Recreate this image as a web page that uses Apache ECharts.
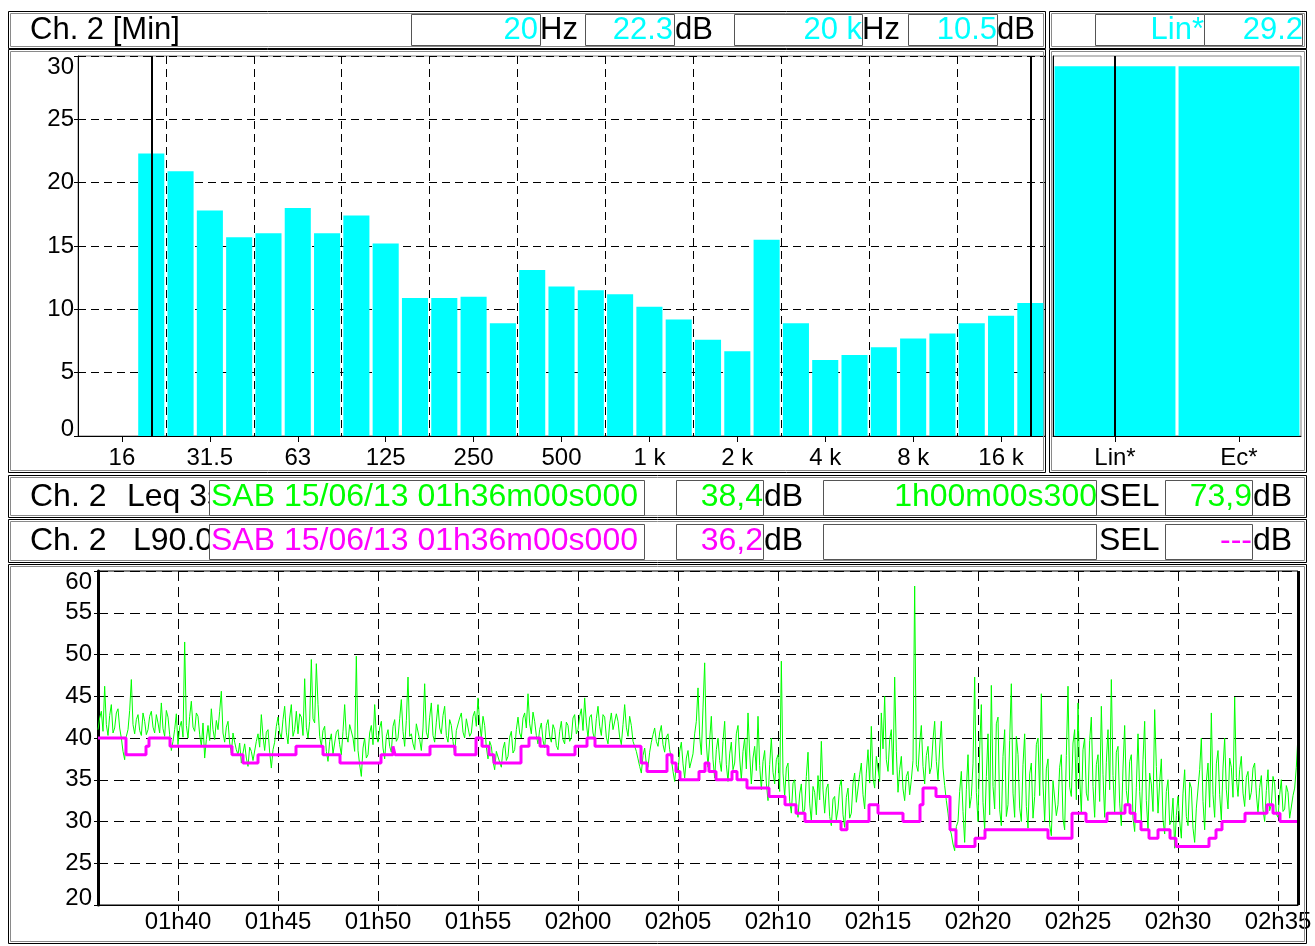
<!DOCTYPE html>
<html><head><meta charset="utf-8">
<script src="https://cdn.jsdelivr.net/npm/echarts@6/dist/echarts.min.js"></script>
<style>html,body{margin:0;padding:0;background:#fff}#c{width:1315px;height:946px}</style>
</head><body><div id="c"></div>
<script>
// ---------- DATA ----------
const bandLabels = ['12.5','16','20','25','31.5','40','50','63','80','100','125','160','200','250','315','400','500','630','800','1 k','1.25 k','1.6 k','2 k','2.5 k','3.15 k','4 k','5 k','6.3 k','8 k','10 k','12.5 k','16 k','20 k'];
const bandValues = [null,null,22.3,20.9,17.8,15.7,16.0,18.0,16.0,17.4,15.2,10.9,10.9,11.0,8.9,13.1,11.8,11.5,11.2,10.2,9.2,7.6,6.7,15.5,8.9,6.0,6.4,7.0,7.7,8.1,8.9,9.5,10.5];
const totalLabels = ['Lin*','Ec*'];
const totalValues = [29.2, 29.2];
const cursorBands = ['20','20 k'];

const startMinute = 96;   // 01h36
const endMinute = 156;    // 02h36
const leqStepMinutes = 1/12; // 5 s samples
const leqValues = [
41,42.4,43.2,40.8,46.2,41.6,40.3,42.7,44,40.6,41.2,43,
43.5,41.2,40,38.4,37.4,40.2,41,43.3,47,41.6,40.5,42.2,
42.8,40.9,40.3,43,42,40.4,41,42.6,43.2,41.3,40.6,42.8,
41.8,40.6,44.2,41.1,40.2,43.3,42.5,40.4,38.5,39.6,41,42.9,
39.2,41.3,42,40.1,51.5,41.5,40,42.6,44.4,41.3,40.8,43,
42.6,40.4,39,41.8,37.6,39.8,41.5,39.7,43.5,41,39.8,42.1,
41,43.2,45.6,40.6,39.5,41.3,42,39.4,38.2,40.6,39.5,38.6,
38,39.4,37,38.2,39.3,37.6,36.6,38.9,38.4,37.3,37.5,39.6,
40.5,38.9,42.8,40.2,38.5,40.7,41,38.3,36.4,38.6,39.5,41.4,
42.5,40.6,40,42.2,43.8,40.7,39.3,42.4,44,40.2,41,43.2,
40.5,42.9,42.5,40.3,47.1,41.3,40,42,49.4,42.3,41.8,48.9,
44,40.2,39,40.9,41.4,38.4,37.2,39.6,40.5,38.1,38.3,40.7,
41,39.2,38,40.8,44,40.3,39.5,41.6,41.5,40,38.4,49.8,
38.5,36.8,35.4,38.8,40,37.6,38,40.6,41.5,39.2,44,40.3,
39.5,41.2,42,38.8,37.5,40.2,41,39,38.3,41.4,42.2,39.6,
40,42.3,44.6,40.8,39,42.1,47.3,40.2,40.5,39.3,38.6,41.7,
41.5,39.8,38.5,41.2,46.5,40.7,40,42.5,44.2,40.3,39.5,41.9,
44,41.2,40.5,42.7,43.8,40.3,39.5,42.2,41.5,39.6,38,40.9,
41,42.4,43,40.7,40,42.3,42.5,40.2,40.6,42.6,43.2,41.4,
44.8,41.8,40,42.6,41.5,38.9,37.5,39.6,39,37.2,36.2,38.4,
38.5,37.1,36.5,38.7,39.5,37.3,37.8,40.1,40.8,38.2,38.6,41,
42.5,40.6,40,42.4,43,41.2,45.3,41.7,40.5,43.1,42,40.3,
39.3,41,41.8,39.7,38.8,41.5,42.2,40.2,39.5,41.6,41,39.1,
38.6,40.8,42,39.8,39.3,41.9,41.5,39.6,40,42.4,42.8,40.5,
41,42.6,43.5,40.9,44.8,41.8,40,42.5,42.8,40.6,39.8,42.3,
43.8,41.4,40.3,42.8,42.5,40.1,39.3,41.7,43,41,40.8,42.9,
42,40.1,39.2,41.6,44,41.3,40.2,42.6,41.5,39.6,39.5,38.4,
37.5,36.6,35.8,37.9,38.8,36.9,36.5,38.3,39.5,40.4,41.2,39.6,
39,40.6,41.5,39.2,38.3,40.1,40.5,38.6,37.5,36,34.8,36.8,
36,38.4,39.5,36.9,35.2,37.6,38.5,36.4,36.2,38.1,40.5,42,
46,40.2,38,43.6,49,39.4,36.5,39.8,42.6,37.4,35.2,38.6,
40,37.3,36,39.6,42,36.8,34.8,38.1,39.5,36.2,37,40.5,
41.5,37.6,35,38.4,40,36.3,43,38.2,34.5,37.6,39,36.1,
42.6,36.7,33.8,37.2,38.5,34.6,32.5,36.8,40,35.9,34.5,37.4,
38,33.6,49.2,35.8,33,36.4,37,32.4,31,34.6,35,31.8,
30.5,33.3,34.5,30.9,31.5,35.4,38.3,32.2,30,34.2,33.5,30.8,
35.5,32.6,39.6,33.8,31,33.9,34.5,30.6,29.5,32.7,33,30.2,
31.5,34.2,35,30.8,29.3,32.9,34,30.4,31,34.6,35.8,32.3,
32.5,35.6,37,33.2,31.5,35.8,38.6,34.6,41.4,35.2,34,37.8,
38,34.8,43,38.7,45,37.4,36,39.8,41,35.6,47.3,38.4,
33.5,36.2,37.8,33.9,32.5,35.4,36,33.2,35,37.3,58.2,36.8,
36,39.4,41.5,36.6,34.5,37.9,39,35.7,36.5,39.8,42,37.2,
35,38.8,42,36.4,34.3,32.5,31,29.2,28.5,27.3,26.5,29.4,
30,33.6,36,31.2,27.5,33.8,38,31.6,33,36.9,47.3,33.5,
30,38.6,44,32.3,29,35.4,40.5,30.8,46.3,34.2,31.5,41.7,
42.5,31.4,29.5,37.8,41,30.6,32,39.7,46.5,33.4,30.5,40.2,
38,31.6,30,36.8,40.5,31.8,29.2,35.7,37,30.4,33,39.2,
40,33.1,45.3,34.6,30,36.3,37.5,29.6,28.3,34.9,35,30.7,
32,36.5,38,30.3,29,37.9,46.2,34.1,33,39.4,41,32.6,
44.2,35.3,31,38.6,40,33.4,32.5,39.7,42.5,34.2,30.5,36.8,
38,32.4,43.8,35.6,30.5,37.1,41,33.8,47,35.5,31,38.3,
39,32.2,29.5,36.4,41.5,33.7,32,37.2,38,30.4,28.8,34.1,
40.5,33.6,30,37.4,42,32.5,29,35.8,34.5,31.2,43.4,36.6,
31,34.7,37.5,30.2,28.5,33.6,35,29.6,30,32.8,26.8,30.7,
33,30.1,28,33.4,36.2,30.6,29.5,34.7,34,29.2,27.5,31.6,
31.5,36.2,40,32.4,29,34.8,37,31.7,43,33.2,30.5,36.9,
38.5,33.2,30.2,36.4,40,33.8,31.5,37.6,36.5,32.9,44.9,35.3,
33,36.2,37.8,33.4,31.8,35.3,36,32.6,33.5,36.4,37,33.3,
31,34.1,35.5,31.4,30,33.7,36.2,31.3,32,35.4,34.5,30.9,
30.5,33.2,35,31.2,31.5,34.3,33.5,30.4,30.2,33.1,34,36.5,
40.4];
// L90 step changes: minutes after 01h36 and level (dB)
const l90Start = [0,1.4,2.4,2.55,3.6,6.7,7.25,8.0,9.9,11.25,12.1,14.15,14.75,14.85,16.6,17.85,18.9,19.2,19.55,19.8,21.15,21.55,22.1,22.5,23.85,24.45,24.85,27.15,27.45,28.45,28.7,28.9,29.1,30.05,30.35,30.55,30.9,31.7,31.95,32.45,33.55,34.35,34.9,35.35,37.15,37.45,38.55,39.0,40.25,41.1,41.25,41.9,42.6,42.9,43.85,44.35,47.5,48.7,49.4,50.45,51.35,51.6,51.85,52.15,52.55,53.0,53.6,53.9,55.55,55.9,56.2,57.35,58.45,58.75,59.1,60];
const l90Values = [40,38,39,40,39,38,37,38,39,38,37,38,39,38,39,38,40,39,38,37,39,40,39,38,39,40,39,37,36,38,37,36,35,36,37,36,35,36,35,34,33,32,31,30,29,30,32,31,30,32,34,33,29,27,28,29,28,31,30,31,32,31,30,29,28,29,28,27,28,29,30,31,32,31,30,30];

// ---------- RENDER ----------
const FONT = "'Liberation Sans', Arial, Helvetica, sans-serif";
const GREEN = '#00ff00', MAG = '#ff00ff', CYAN = '#00ffff';
const leqData = leqValues.map((v,i)=>[startMinute + i*leqStepMinutes, v]);
const l90Data = l90Start.map((t,i)=>[startMinute + t, l90Values[i]]);
const pad = n => (n<10?'0':'')+n;

function txt(x,y,s,color,size,align,z){
  return {type:'text', x:x, y:y, z:z||6, silent:true,
    style:{text:s, fill:color, font:size+'px '+FONT, textAlign:align||'left', textVerticalAlign:'middle', align:align||'left', verticalAlign:'middle'}};
}
function box(x,y,w,h,z){
  return {type:'rect', z:z||5, silent:true, shape:{x:x+0.5,y:y+0.5,width:w,height:h}, style:{fill:'#fff', stroke:'#555', lineWidth:1}};
}
function frame(x,y,w,h){
  return [
    {type:'rect', z:1, silent:true, shape:{x:x+0.5,y:y+0.5,width:w,height:h}, style:{fill:'none', stroke:'#000', lineWidth:1}},
    {type:'rect', z:1, silent:true, shape:{x:x+2.5,y:y+2.5,width:w-4,height:h-4}, style:{fill:'none', stroke:'#8a8a8a', lineWidth:1}}
  ];
}
const g = [];
g.push(...frame(8,11,1037,37), ...frame(8,49,1037,423), ...frame(1049,11,257,37), ...frame(1049,49,257,423));
g.push(...frame(8,475,1298,42), ...frame(8,519,1298,43), ...frame(8,564,1298,379));
// header
g.push(txt(30,30,'Ch. 2 [Min]','#000',31));
g.push(box(411,14,129,31), txt(538,30,'20',CYAN,31,'right'), txt(540,30,'Hz','#000',31));
g.push(box(585,14,89,31), txt(673,30,'22.3',CYAN,31,'right'), txt(675,30,'dB','#000',31));
g.push(box(734,14,128,31), txt(862,30,'20 k',CYAN,31,'right'), txt(862,30,'Hz','#000',31));
g.push(box(908,14,89,31), txt(997,30,'10.5',CYAN,31,'right'), txt(997,30,'dB','#000',31));
g.push(box(1095,14,109,31), txt(1204,30,'Lin*',CYAN,31,'right'), box(1204,14,98,31), txt(1303,30,'29.2',CYAN,31,'right'));
// row 1
g.push(txt(30,497,'Ch. 2','#000',32,'left',3), txt(127,497,'Leq 3s','#000',32,'left',3));
g.push(box(209,480,435,35), txt(211,497,'SAB 15/06/13 01h36m00s000',GREEN,32));
g.push(box(676,480,87,35), txt(763,497,'38,4',GREEN,32,'right'), txt(764,497,'dB','#000',32));
g.push(box(823,480,273,35), txt(1097,497,'1h00m00s300',GREEN,32,'right'));
g.push(txt(1099,497,'SEL','#000',32,'left',3));
g.push(box(1165,480,87,35), txt(1252,497,'73,9',GREEN,32,'right'), txt(1253,497,'dB','#000',32));
// row 2
g.push(txt(30,541,'Ch. 2','#000',32,'left',3), txt(133,541,'L90.0','#000',32,'left',3));
g.push(box(209,524,435,35), txt(211,541,'SAB 15/06/13 01h36m00s000',MAG,32));
g.push(box(676,524,87,35), txt(763,541,'36,2',MAG,32,'right'), txt(764,541,'dB','#000',32));
g.push(box(823,524,273,35));
g.push(txt(1099,541,'SEL','#000',32,'left',3));
g.push(box(1165,524,87,35), txt(1252,541,'---',MAG,32,'right'), txt(1253,541,'dB','#000',32));

const axisFont = {fontSize:24, fontFamily:FONT, color:'#000'};
const dashA = {color:'#000', width:1, type:[8,5]};
const dashB = {color:'#000', width:1, type:[10,6]};
const edgeRich = {
  top:{fontSize:24, fontFamily:FONT, color:'#000', padding:[22,0,0,0]},
  bot:{fontSize:24, fontFamily:FONT, color:'#000', padding:[0,0,14,0]}
};
const edgeLabel = (lo,hi)=>(v)=> v===hi ? '{top|'+v+'}' : (v===lo ? '{bot|'+v+'}' : String(v));

const option = {
  animation:false,
  backgroundColor:'#fff',
  graphic:{elements:g},
  grid:[
    {left:78, top:56, width:967, height:380, show:true, borderColor:'#808080', borderWidth:1},
    {left:1053, top:56, width:248, height:380, show:true, borderColor:'#808080', borderWidth:1},
    {left:98, top:571, width:1200, height:334, show:true, borderColor:'#000', borderWidth:1}
  ],
  xAxis:[
    {type:'category', gridIndex:0, data:bandLabels, boundaryGap:true,
     axisLine:{lineStyle:{color:'#000'}},
     axisTick:{show:true, alignWithLabel:true, length:6, interval:(i)=>i%3===1, lineStyle:{color:'#000'}},
     axisLabel:Object.assign({interval:(i)=>i%3===1, margin:10}, axisFont),
     splitLine:{show:true, interval:(i)=>i%3===0, lineStyle:dashA}},
    {type:'category', gridIndex:1, data:totalLabels, boundaryGap:true,
     axisLine:{lineStyle:{color:'#000'}},
     axisTick:{show:true, alignWithLabel:true, length:6, lineStyle:{color:'#000'}},
     axisLabel:Object.assign({margin:10}, axisFont),
     splitLine:{show:false}},
    {type:'value', gridIndex:2, min:startMinute, max:endMinute, splitNumber:12,
     axisLine:{lineStyle:{color:'#000'}},
     axisTick:{show:true, length:6, lineStyle:{color:'#000'}},
     axisLabel:Object.assign({margin:5, showMinLabel:false, showMaxLabel:false, formatter:(v)=>{
        const r=Math.round(v); if (Math.abs(v-r)>1e-6 || r%5) return '';
        return pad(Math.floor(r/60))+'h'+pad(r%60);}}, axisFont),
     splitLine:{show:true, lineStyle:dashB}}
  ],
  yAxis:[
    {type:'value', gridIndex:0, min:0, max:30, interval:5,
     axisLine:{show:true, lineStyle:{color:'#000'}},
     axisTick:{show:true, length:4, lineStyle:{color:'#000'}},
     axisLabel:Object.assign({margin:4, formatter:edgeLabel(0,30), rich:edgeRich}, axisFont),
     splitLine:{show:true, lineStyle:dashA}},
    {type:'value', gridIndex:1, min:0, max:30, interval:5,
     axisLine:{show:true, lineStyle:{color:'#000'}}, axisTick:{show:false}, axisLabel:{show:false}, splitLine:{show:false}},
    {type:'value', gridIndex:2, min:20, max:60, interval:5,
     axisLine:{show:true, lineStyle:{color:'#000', width:3}},
     axisTick:{show:true, length:4, lineStyle:{color:'#000'}},
     axisLabel:Object.assign({margin:6, formatter:edgeLabel(20,60), rich:edgeRich}, axisFont),
     splitLine:{show:true, lineStyle:dashB}}
  ],
  series:[
    {type:'bar', xAxisIndex:0, yAxisIndex:0, data:bandValues, barCategoryGap:'11%', itemStyle:{color:CYAN},
     markLine:{silent:true, symbol:['none','none'], label:{show:false}, lineStyle:{color:'#000', width:2, type:'solid'},
       data:cursorBands.map(b=>({xAxis:b}))}},
    {type:'bar', xAxisIndex:1, yAxisIndex:1, data:totalValues, barCategoryGap:'2.5%', itemStyle:{color:CYAN},
     markLine:{silent:true, symbol:['none','none'], label:{show:false}, lineStyle:{color:'#000', width:2, type:'solid'},
       data:[{xAxis:totalLabels[0]}]}},
    {type:'line', xAxisIndex:2, yAxisIndex:2, data:leqData, showSymbol:false, symbol:'none',
     lineStyle:{color:GREEN, width:1}, z:3,
     markLine:{silent:true, symbol:['none','none'], label:{show:false}, lineStyle:{color:'#000', width:3, type:'solid'},
       data:[{xAxis:endMinute}]}},
    {type:'line', xAxisIndex:2, yAxisIndex:2, data:l90Data, step:'end', showSymbol:false, symbol:'none',
     lineStyle:{color:MAG, width:3}, z:4}
  ]
};
const chart = echarts.init(document.getElementById('c'), null, {renderer:'canvas'});
chart.setOption(option);
</script></body></html>
